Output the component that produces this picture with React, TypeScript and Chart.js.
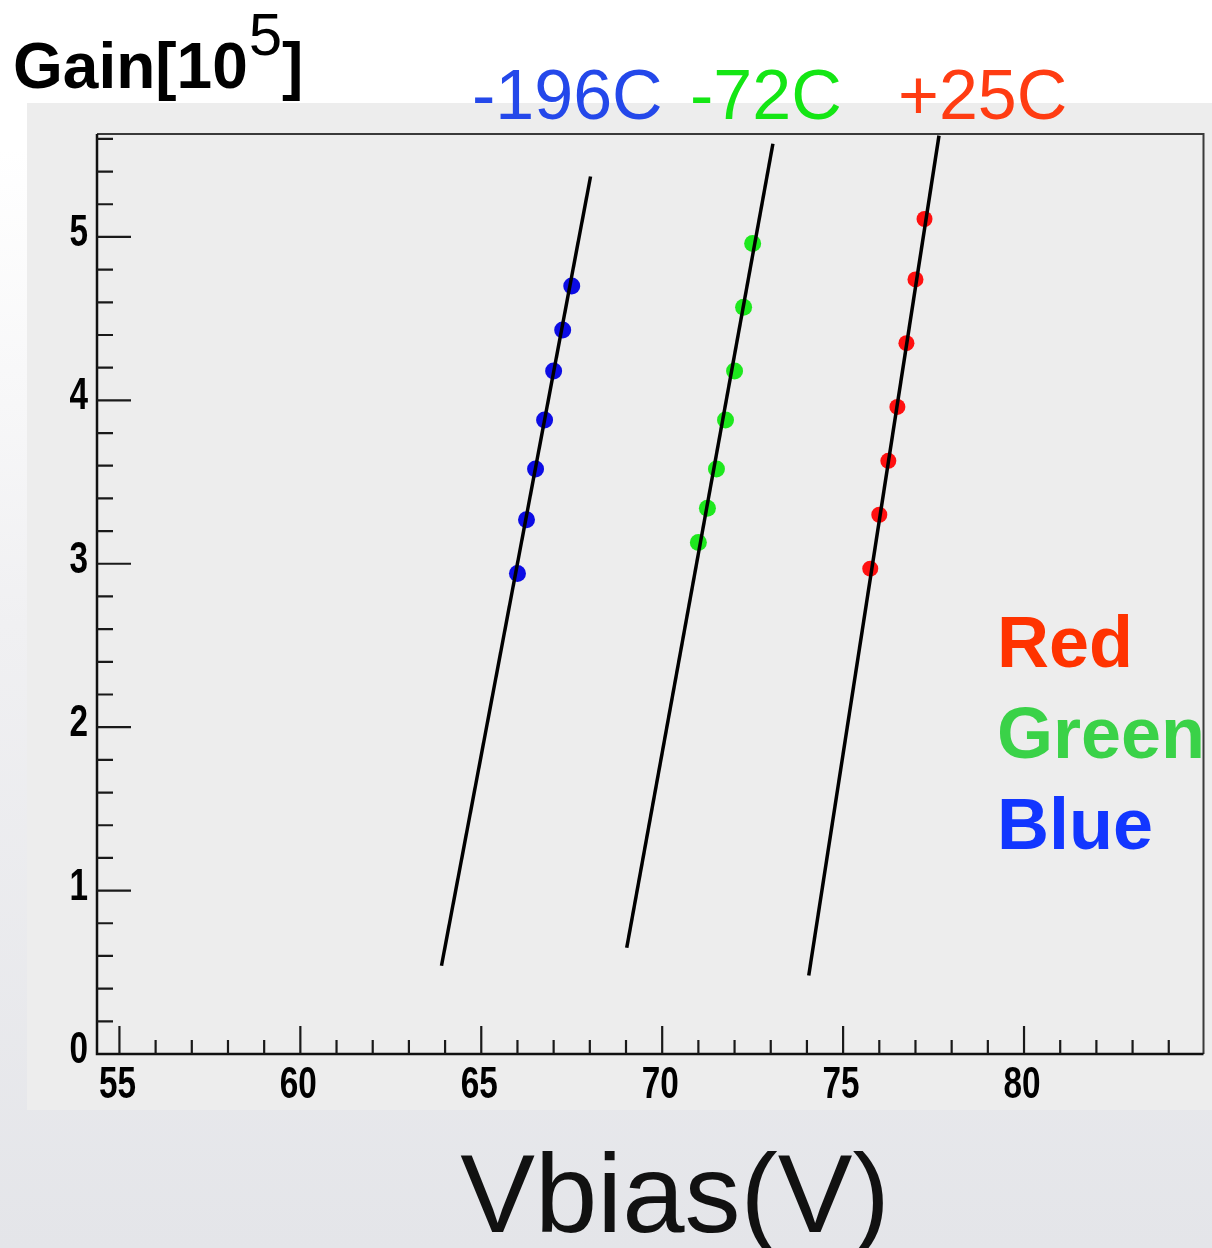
import React, { useEffect, useRef } from "react";
import { Chart, registerables } from "chart.js";

Chart.register(...registerables);

// ---- data ----
const VOLTS_BLUE = [66.0, 66.25, 66.5, 66.75, 67.0, 67.25, 67.5];
const GAIN_BLUE = [2.94, 3.27, 3.58, 3.88, 4.18, 4.43, 4.7];
const VOLTS_GREEN = [71.0, 71.25, 71.5, 71.75, 72.0, 72.25, 72.5];
const GAIN_GREEN = [3.13, 3.34, 3.58, 3.88, 4.18, 4.57, 4.96];
const VOLTS_RED = [75.75, 76.0, 76.25, 76.5, 76.75, 77.0, 77.25];
const GAIN_RED = [2.97, 3.3, 3.63, 3.96, 4.35, 4.74, 5.11];

const FIT_BLUE_V = [63.9, 68.02];
const FIT_BLUE_G = [0.54, 5.37];
const FIT_GREEN_V = [69.02, 73.06];
const FIT_GREEN_G = [0.65, 5.57];
const FIT_RED_V = [74.05, 77.65];
const FIT_RED_G = [0.48, 5.62];

const X_MIN = 54.38;
const X_MAX = 84.96;
const Y_MIN = 0;
const Y_MAX = 5.63;
const X_MAJOR_TICKS = [55, 60, 65, 70, 75, 80];
const Y_MAJOR_TICKS = [0, 1, 2, 3, 4, 5];

const TEMP_LABELS = ["-196C", "-72C", "+25C"];
const LEGEND_LABELS = ["Red", "Green", "Blue"];
const Y_TITLE = "Gain[10";
const Y_TITLE_EXP = "5";
const X_TITLE = "Vbias(V)";

const pts = (xs: number[], ys: number[]) => xs.map((x, i) => ({ x, y: ys[i] }));

const SANS = '"Liberation Sans", Arial, Helvetica, sans-serif';

export default function App() {
  const ref = useRef<HTMLCanvasElement | null>(null);

  useEffect(() => {
    const canvas = ref.current;
    if (!canvas) return;
    const W = 1212;
    const H = 1248;

    const bgPlugin = {
      id: "bgPlugin",
      beforeDraw(chart: any) {
        const ctx = chart.ctx;
        ctx.save();
        const g = ctx.createLinearGradient(0, 0, 0, H);
        g.addColorStop(0, "#ffffff");
        g.addColorStop(0.12, "#ffffff");
        g.addColorStop(0.5, "#f0f0f2");
        g.addColorStop(1, "#e4e5e9");
        ctx.fillStyle = g;
        ctx.fillRect(0, 0, W, H);
        ctx.fillStyle = "#ededed";
        ctx.fillRect(27, 103, W - 27, 1110 - 103);
        ctx.restore();
      },
    };

    const framePlugin = {
      id: "framePlugin",
      afterDatasetsDraw(chart: any) {
        const ctx = chart.ctx;
        const ca = chart.chartArea;
        const xs = chart.scales.x;
        const ys = chart.scales.y;
        ctx.save();
        // top + right frame
        ctx.strokeStyle = "#3a3a3a";
        ctx.lineWidth = 2;
        ctx.beginPath();
        ctx.moveTo(ca.left, ca.top);
        ctx.lineTo(ca.right, ca.top);
        ctx.lineTo(ca.right, ca.bottom);
        ctx.stroke();
        // axes
        ctx.strokeStyle = "#111";
        ctx.lineWidth = 2.5;
        ctx.beginPath();
        ctx.moveTo(ca.left, ca.top);
        ctx.lineTo(ca.left, ca.bottom);
        ctx.lineTo(ca.right, ca.bottom);
        ctx.stroke();
        // x ticks (inward)
        ctx.lineWidth = 2.2;
        ctx.strokeStyle = "#1a1a1a";
        ctx.beginPath();
        for (let v = Math.ceil(X_MIN); v <= Math.floor(X_MAX); v++) {
          const px = xs.getPixelForValue(v);
          const len = X_MAJOR_TICKS.includes(v) ? 28 : 14;
          ctx.moveTo(px, ca.bottom);
          ctx.lineTo(px, ca.bottom - len);
        }
        // y ticks (inward)
        for (let k = 1; k * 0.2 <= Y_MAX + 1e-9; k++) {
          const v = k * 0.2;
          const py = ys.getPixelForValue(v);
          const major = k % 5 === 0;
          const len = major ? 34 : 16;
          ctx.moveTo(ca.left, py);
          ctx.lineTo(ca.left + len, py);
        }
        ctx.stroke();

        // tick labels (condensed bold digits)
        ctx.fillStyle = "#000";
        ctx.font = `bold 45px ${SANS}`;
        ctx.textBaseline = "alphabetic";
        X_MAJOR_TICKS.forEach((v) => {
          const px = xs.getPixelForValue(v);
          ctx.save();
          ctx.translate(px - 2, ca.bottom + 44);
          ctx.scale(0.74, 1);
          ctx.textAlign = "center";
          ctx.fillText(String(v), 0, 0);
          ctx.restore();
        });
        Y_MAJOR_TICKS.forEach((v) => {
          const py = ys.getPixelForValue(v);
          ctx.save();
          ctx.translate(ca.left - 9, py + 9);
          ctx.scale(0.74, 1);
          ctx.textAlign = "right";
          ctx.fillText(String(v), 0, 0);
          ctx.restore();
        });
        ctx.restore();
      },
    };

    const textPlugin = {
      id: "textPlugin",
      afterDraw(chart: any) {
        const ctx = chart.ctx;
        ctx.save();
        ctx.textBaseline = "alphabetic";
        ctx.textAlign = "left";
        // y-axis title
        ctx.fillStyle = "#000";
        ctx.font = `bold 64px ${SANS}`;
        ctx.fillText(Y_TITLE, 13, 88);
        const w1 = ctx.measureText(Y_TITLE).width;
        ctx.font = `normal 60px ${SANS}`;
        ctx.fillText(Y_TITLE_EXP, 13 + w1 + 1, 55);
        const w2 = ctx.measureText(Y_TITLE_EXP).width;
        ctx.font = `bold 64px ${SANS}`;
        ctx.fillText("]", 13 + w1 + w2 + 1, 88);

        // temperature labels
        ctx.font = `normal 70px ${SANS}`;
        const tempX = [472, 690, 898];
        const tempC = ["#2448ea", "#14e614", "#ff3c12"];
        TEMP_LABELS.forEach((t, i) => {
          ctx.fillStyle = tempC[i];
          ctx.fillText(t, tempX[i], 119);
        });

        // colour legend
        ctx.font = `bold 72px ${SANS}`;
        const legY = [667, 758, 849];
        const legC = ["#ff3300", "#3ad248", "#1236ff"];
        LEGEND_LABELS.forEach((t, i) => {
          ctx.fillStyle = legC[i];
          ctx.fillText(t, 997, legY[i]);
        });

        // x-axis title
        ctx.fillStyle = "#111";
        ctx.font = `normal 112px ${SANS}`;
        ctx.textAlign = "center";
        ctx.fillText(X_TITLE, 675, 1232);
        ctx.restore();
      },
    };

    const chart = new Chart(canvas, {
      type: "scatter",
      data: {
        datasets: [
          {
            label: "fit -196C",
            data: pts(FIT_BLUE_V, FIT_BLUE_G),
            showLine: true,
            borderColor: "#000",
            borderWidth: 3.5,
            pointRadius: 0,
            order: 0,
          },
          {
            label: "fit -72C",
            data: pts(FIT_GREEN_V, FIT_GREEN_G),
            showLine: true,
            borderColor: "#000",
            borderWidth: 3.5,
            pointRadius: 0,
            order: 0,
          },
          {
            label: "fit +25C",
            data: pts(FIT_RED_V, FIT_RED_G),
            showLine: true,
            borderColor: "#000",
            borderWidth: 3.5,
            pointRadius: 0,
            order: 0,
          },
          {
            label: "-196C",
            data: pts(VOLTS_BLUE, GAIN_BLUE),
            backgroundColor: "#0c0ce4",
            borderWidth: 0,
            pointRadius: 8.5,
            order: 1,
          },
          {
            label: "-72C",
            data: pts(VOLTS_GREEN, GAIN_GREEN),
            backgroundColor: "#1ee81e",
            borderWidth: 0,
            pointRadius: 8.5,
            order: 1,
          },
          {
            label: "+25C",
            data: pts(VOLTS_RED, GAIN_RED),
            backgroundColor: "#ff1010",
            borderWidth: 0,
            pointRadius: 8,
            order: 1,
          },
        ],
      },
      options: {
        responsive: false,
        animation: false,
        devicePixelRatio: 1,
        layout: { padding: { top: 134, right: 8, left: 0, bottom: 0 } },
        plugins: {
          legend: { display: false },
          tooltip: { enabled: false },
          title: { display: false },
        },
        scales: {
          x: {
            type: "linear",
            min: X_MIN,
            max: X_MAX,
            afterFit: (s: any) => {
              s.height = 194;
            },
            grid: { display: false, drawTicks: false },
            border: { display: false },
            ticks: { display: false, includeBounds: false, stepSize: 1 },
          },
          y: {
            type: "linear",
            min: Y_MIN,
            max: Y_MAX,
            afterFit: (s: any) => {
              s.width = 97;
            },
            grid: { display: false, drawTicks: false },
            border: { display: false },
            ticks: { display: false, includeBounds: false, stepSize: 0.2 },
          },
        },
      },
      plugins: [bgPlugin, framePlugin, textPlugin],
    } as any);

    return () => {
      chart.destroy();
    };
  }, []);

  return (
    <div style={{ position: "absolute", left: 0, top: 0, width: 1212, height: 1248, overflow: "hidden" }}>
      <canvas ref={ref} width={1212} height={1248} style={{ display: "block", width: 1212, height: 1248 }} />
    </div>
  );
}
